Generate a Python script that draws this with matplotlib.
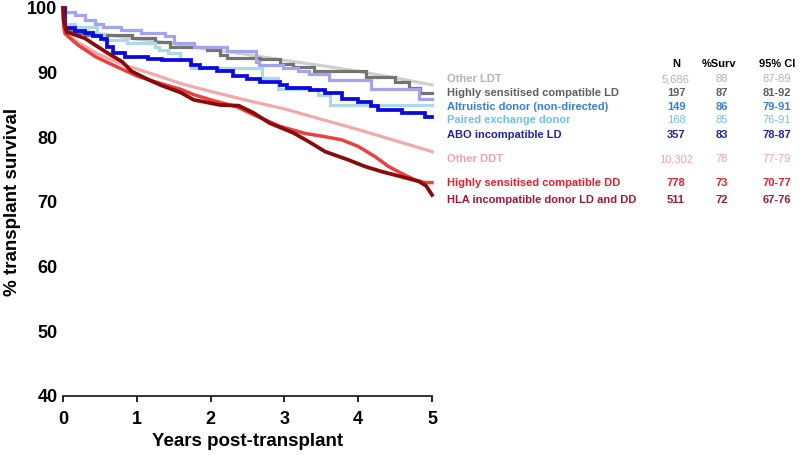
import matplotlib
matplotlib.use("Agg")
import matplotlib.pyplot as plt

plt.rcParams['font.family'] = ['Liberation Sans', 'DejaVu Sans']

# ---------------- data ----------------
other_ldt_t = [0, 0.02, 0.25, 0.5, 1.0, 1.5, 2.0, 2.5, 3.0, 3.5, 4.0, 4.5, 5.0]
other_ldt_v = [100, 97.4, 96.6, 96.0, 95.2, 94.5, 93.6, 92.8, 91.9, 91.1, 90.2, 89.2, 88.1]

hs_ld_t = [0, 0.02, 0.16, 0.3, 0.93, 1.25, 1.45, 1.95, 2.13, 2.22, 2.67, 2.94, 3.12, 3.4, 4.1, 4.5, 4.69, 4.84, 5.0]
hs_ld_v = [100, 96.6, 96.1, 95.9, 95.3, 94.8, 94.0, 93.5, 92.8, 92.2, 92.1, 91.4, 90.9, 90.2, 89.3, 88.5, 87.6, 86.9, 86.9]

altru_t = [0, 0.03, 0.16, 0.3, 0.43, 0.54, 0.79, 1.06, 1.38, 1.5, 1.77, 2.22, 2.62, 2.66, 2.98, 3.18, 3.33, 3.6, 4.18, 4.82, 5.0]
altru_v = [100, 99.4, 98.9, 98.2, 97.6, 97.1, 96.6, 96.2, 95.6, 94.6, 94.0, 93.4, 91.7, 91.2, 90.7, 90.3, 89.8, 88.9, 87.4, 85.9, 85.9]

paired_t = [0, 0.03, 0.16, 0.46, 0.55, 0.87, 1.25, 1.3, 1.42, 1.59, 1.73, 2.69, 2.92, 3.46, 3.62, 5.0]
paired_v = [100, 97.6, 97.1, 96.0, 95.1, 94.6, 94.0, 93.5, 93.0, 91.9, 90.7, 89.1, 87.4, 86.6, 85.0, 85.0]

abo_t = [0, 0.03, 0.16, 0.3, 0.4, 0.52, 0.6, 0.68, 0.84, 1.15, 1.34, 1.73, 1.86, 2.08, 2.31, 2.49, 2.67,
         2.94, 3.03, 3.35, 3.55, 3.78, 4.0, 4.18, 4.27, 4.59, 4.9, 5.0]
abo_v = [100, 96.9, 96.5, 96.1, 95.6, 95.2, 94.0, 93.0, 92.4, 92.1, 91.9, 91.2, 90.7, 90.2, 89.5, 89.0, 88.6,
         88.1, 87.7, 87.3, 86.8, 86.0, 85.5, 84.9, 84.2, 83.8, 83.1, 83.1]

other_ddt_t = [0, 0.02, 0.1, 0.2, 0.47, 0.8, 1.16, 1.6, 2.0, 2.5, 3.0, 3.5, 4.0, 4.5, 5.0]
other_ddt_v = [100, 96.4, 95.5, 94.7, 92.9, 91.3, 90.0, 88.3, 87.1, 85.7, 84.4, 82.8, 81.2, 79.5, 77.8]

hs_dd_t = [0, 0.01, 0.03, 0.2, 0.45, 0.75, 1.0, 1.3, 1.6, 1.77, 2.0, 2.36, 2.58, 2.94, 3.28, 3.55, 3.78,
           4.0, 4.23, 4.41, 4.59, 4.77, 4.9, 5.0]
hs_dd_v = [100, 97, 96, 94.3, 92.4, 90.8, 89.5, 88.4, 87.4, 86.6, 85.8, 84.7, 83.5, 81.7, 80.6, 80.1, 79.6,
           78.6, 77.0, 75.5, 74.4, 73.4, 73.0, 73.0]

hla_t = [0, 0.01, 0.05, 0.3, 0.43, 0.61, 0.8, 0.93, 1.16, 1.34, 1.6, 1.77, 2.13, 2.38, 2.58, 2.8, 3.12,
         3.35, 3.55, 3.87, 4.09, 4.32, 4.59, 4.82, 4.92, 5.0]
hla_v = [100, 98, 96.3, 95.3, 94.3, 93.0, 91.7, 90.2, 88.9, 88.0, 86.9, 85.8, 85.0, 84.9, 83.8, 82.2, 80.7,
         79.2, 77.8, 76.5, 75.5, 74.7, 73.9, 73.2, 72.5, 71.1]

groups = ["Other LDT", "Highly sensitised compatible LD", "Altruistic donor (non-directed)",
          "Paired exchange donor", "ABO incompatible LD", "Other DDT",
          "Highly sensitised compatible DD", "HLA incompatible donor LD and DD"]
n_vals = ["5,686", "197", "149", "168", "357", "10,302", "778", "511"]
surv_vals = ["88", "87", "86", "85", "83", "78", "73", "72"]
ci_vals = ["87-89", "81-92", "79-91", "76-91", "78-87", "77-79", "70-77", "67-76"]

x_ticks = [0, 1, 2, 3, 4, 5]
y_ticks = [40, 50, 60, 70, 80, 90, 100]

# ---------------- styling ----------------
line_colors = ["#cfcfcf", "#747474", "#a3a3ee", "#acd9e4", "#0a0ae0", "#f4a9a9", "#e8413f", "#8c0a0a"]
text_colors = ["#b3b3b3", "#5e5e5e", "#3b7fd6", "#6cc3ea", "#2222a8", "#f0a3ab", "#e5202c", "#a3173b"]
steps = [False, True, True, True, True, False, False, False]
widths = [2.3, 2.3, 2.3, 2.3, 2.7, 2.3, 2.5, 2.7]
series = [(other_ldt_t, other_ldt_v), (hs_ld_t, hs_ld_v), (altru_t, altru_v), (paired_t, paired_v),
          (abo_t, abo_v), (other_ddt_t, other_ddt_v), (hs_dd_t, hs_dd_v), (hla_t, hla_v)]

fig = plt.figure(figsize=(8, 4.55), dpi=100)
ax = fig.add_axes([63 / 800, 59 / 455, 369 / 800, 388 / 455])

for (t, v), c, st, lw in zip(series, line_colors, steps, widths):
    ax.plot(t, v, color=c, lw=lw, drawstyle='steps-post' if st else 'default',
            solid_joinstyle='miter', clip_on=False)

ax.set_xlim(0, 5)
ax.set_ylim(40, 100)
ax.set_xticks(x_ticks)
ax.set_yticks(y_ticks)
for s in ['top', 'right', 'left']:
    ax.spines[s].set_visible(False)
ax.spines['bottom'].set_linewidth(1.3)
ax.spines['bottom'].set_color('#222222')
ax.tick_params(axis='x', length=4, width=1.2, pad=7, labelsize=13)
ax.tick_params(axis='y', length=0, pad=4, labelsize=13)
for lab in ax.get_xticklabels() + ax.get_yticklabels():
    lab.set_fontweight('bold')
ax.set_xlabel("Years post-transplant", fontsize=13.5, fontweight='bold')
ax.set_ylabel("% transplant survival", fontsize=13.5, fontweight='bold')
ax.xaxis.set_label_coords(0.5, (396 - 433) / 388)
ax.yaxis.set_label_coords((21 - 63) / 369, 0.5)

# ---------------- table ----------------
def fx(px):
    return px / 800

def fy(py):
    return 1 - py / 455

row_y = [79.5, 93.5, 107, 120, 134.5, 159, 183.5, 200]
hdr_y = 64
fs = 8
fig.text(fx(676), fy(hdr_y), "N", ha='center', va='center', fontsize=fs, fontweight='bold')
fig.text(fx(719), fy(hdr_y), "%Surv", ha='center', va='center', fontsize=fs, fontweight='bold')
fig.text(fx(777), fy(hdr_y), "95% CI", ha='center', va='center', fontsize=fs, fontweight='bold')
for i, g in enumerate(groups):
    c = text_colors[i]
    wt = 'bold' if i in (1, 2, 4, 6, 7) else 'normal'
    fig.text(fx(447), fy(row_y[i]), g, ha='left', va='center', fontsize=fs, fontweight='bold', color=c)
    fig.text(fx(676), fy(row_y[i]), n_vals[i], ha='center', va='center', fontsize=fs, color=c, fontweight=wt)
    fig.text(fx(722), fy(row_y[i]), surv_vals[i], ha='center', va='center', fontsize=fs, color=c, fontweight=wt)
    fig.text(fx(777), fy(row_y[i]), ci_vals[i], ha='center', va='center', fontsize=fs, color=c, fontweight=wt)

fig.savefig("out.png", dpi=100)
